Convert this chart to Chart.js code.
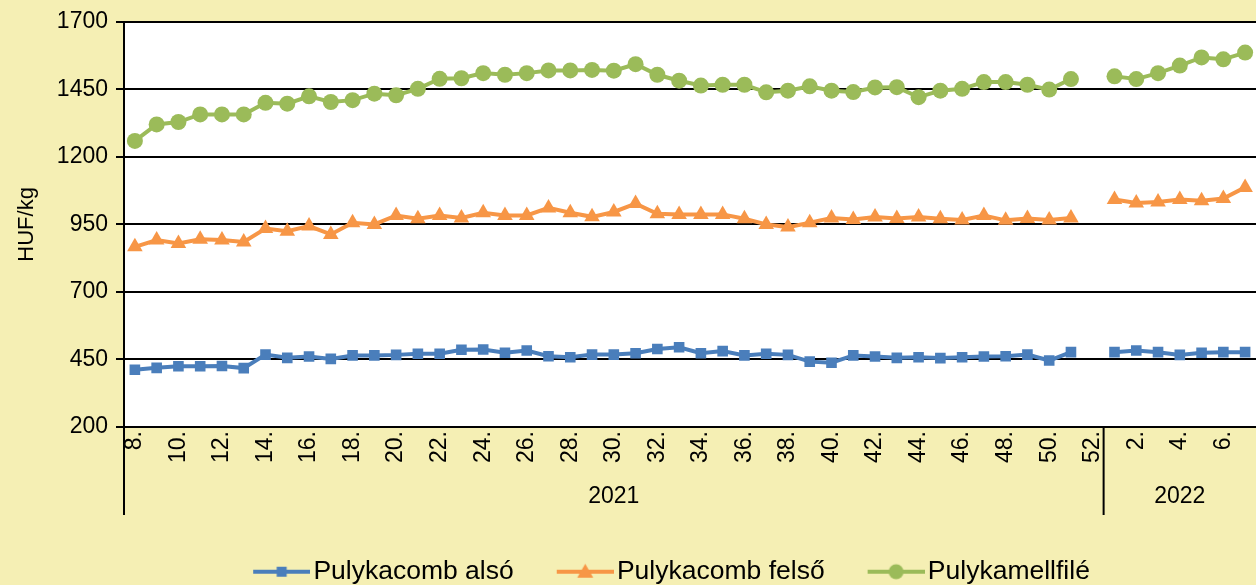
<!DOCTYPE html>
<html>
<head>
<meta charset="utf-8">
<script src="https://cdn.jsdelivr.net/npm/chart.js@4.4.1/dist/chart.umd.min.js"></script>
<style>
  html, body { margin: 0; padding: 0; background: #F5EFB4; }
  #wrap { width: 1256px; height: 585px; }
</style>
</head>
<body>
<div id="wrap"><canvas id="chart" width="1256" height="585"></canvas></div>
<script>
/* week labels: 2021 weeks 8-52, then 2022 weeks 1-7 */
const WEEKS = [
  '8.', '9.', '10.', '11.', '12.', '13.', '14.', '15.', '16.', '17.', '18.', '19.',
  '20.', '21.', '22.', '23.', '24.', '25.', '26.', '27.', '28.', '29.', '30.', '31.',
  '32.', '33.', '34.', '35.', '36.', '37.', '38.', '39.', '40.', '41.', '42.', '43.',
  '44.', '45.', '46.', '47.', '48.', '49.', '50.', '51.', '52.',
  '1.', '2.', '3.', '4.', '5.', '6.', '7.'
];
const YEARS       = ['2021', '2022'];
const YEAR_STARTS = [0, 45];   /* first week index of each year */

const Y_TICKS = [200, 450, 700, 950, 1200, 1450, 1700];

const ALSO = [
  412, 419, 425, 425, 426, 418, 468, 456, 461, 452, 465, 465,
  467, 471, 471, 486, 487, 475, 483, 462, 458, 468, 468, 473,
  489, 495, 473, 481, 465, 471, 467, 442, 438, 465, 461, 456,
  458, 455, 458, 461, 462, 468, 446, 477, null,
  477, 483, 477, 467, 475, 477, 477
];
const FELSO = [
  867, 892, 879, 895, 892, 885, 935, 925, 944, 913, 956, 950,
  983, 971, 983, 974, 993, 983, 983, 1011, 993, 978, 996, 1027,
  989, 987, 987, 987, 971, 950, 940, 956, 974, 968, 977, 972,
  977, 971, 966, 983, 965, 972, 966, 974, null,
  1042, 1029, 1033, 1042, 1038, 1046, 1087
];
const MELLFILE = [
  1259, 1320, 1329, 1357, 1357, 1357, 1400, 1397, 1424, 1403, 1410, 1434,
  1428, 1452, 1489, 1491, 1510, 1504, 1510, 1520, 1520, 1522, 1519, 1543,
  1504, 1482, 1464, 1467, 1467, 1439, 1445, 1461, 1445, 1440, 1457, 1458,
  1421, 1445, 1452, 1477, 1477, 1467, 1449, 1488, null,
  1498, 1488, 1510, 1538, 1568, 1561, 1586
];

const BLUE   = '#4A7EBB';
const ORANGE = '#F79646';
const GREEN  = '#9BBB59';
const FONT   = "'Liberation Sans', Arial, sans-serif";
const PLOT_BOTTOM = 427;

/* Excel-like legend sample: a line with the marker in the middle */
function legendSample(color, shape) {
  const c = document.createElement('canvas');
  c.width = 70; c.height = 22;
  const g = c.getContext('2d');
  const cx = 41.5, cy = 11;
  g.strokeStyle = color; g.fillStyle = color; g.lineWidth = 4;
  g.beginPath(); g.moveTo(13, cy); g.lineTo(70, cy); g.stroke();
  g.beginPath();
  if (shape === 'rect') g.rect(cx - 5, cy - 5, 10, 10);
  else if (shape === 'triangle') { g.moveTo(cx, cy - 8); g.lineTo(cx + 8, cy + 6); g.lineTo(cx - 8, cy + 6); g.closePath(); }
  else g.arc(cx, cy, 7.5, 0, Math.PI * 2);
  g.fill();
  return c;
}
const SAMPLES = [legendSample(BLUE, 'rect'), legendSample(ORANGE, 'triangle'), legendSample(GREEN, 'circle')];

const plotBg = {
  id: 'plotBg',
  beforeDraw(chart) {
    const { ctx, chartArea: a } = chart;
    ctx.save();
    ctx.fillStyle = '#fff';
    ctx.fillRect(a.left, a.top, a.right - a.left, a.bottom - a.top);
    ctx.restore();
  },
  afterLayout(chart) {
    /* plot runs right up to the canvas edge, like the Excel original */
    const a = chart.chartArea, xs = chart.scales.x;
    a.right = chart.width;
    a.width = a.right - a.left;
    xs.right = a.right;
    xs.width = a.width;
    xs.configure();
    /* Excel puts the legend a bit right of centre and near the bottom edge */
    const lg = chart.legend;
    lg.left += 42; lg.right += 42;
    lg.top += 10; lg.bottom += 10;
  }
};

/* year row under the week labels, with separators between years */
const yearGroups = {
  id: 'yearGroups',
  afterDraw(chart) {
    const { ctx, chartArea: a } = chart;
    const x = chart.scales.x;
    const half = (x.getPixelForValue(1) - x.getPixelForValue(0)) / 2;
    ctx.save();
    ctx.strokeStyle = '#000';
    ctx.lineWidth = 2;
    ctx.fillStyle = '#000';
    ctx.font = '23px ' + FONT;
    ctx.textAlign = 'center';
    ctx.textBaseline = 'middle';
    YEARS.forEach((yr, i) => {
      const x0 = x.getPixelForValue(YEAR_STARTS[i]) - half;
      const x1 = i + 1 < YEARS.length ? x.getPixelForValue(YEAR_STARTS[i + 1]) - half : a.right;
      ctx.beginPath();
      ctx.moveTo(x0, a.bottom);
      ctx.lineTo(x0, 515);
      ctx.stroke();
      ctx.fillText(yr, (x0 + x1) / 2, 497);
    });
    ctx.restore();
  }
};

new Chart(document.getElementById('chart'), {
  type: 'line',
  data: {
    labels: WEEKS,
    datasets: [
      {
        label: 'Pulykacomb alsó',
        data: ALSO,
        borderColor: BLUE,
        backgroundColor: BLUE,
        borderWidth: 4,
        pointStyle: 'rect',
        pointRadius: 7.5,
        pointBorderWidth: 0,
      },
      {
        label: 'Pulykacomb felső',
        data: FELSO,
        borderColor: ORANGE,
        backgroundColor: ORANGE,
        borderWidth: 4,
        pointStyle: 'triangle',
        pointRadius: 9,
        pointBorderWidth: 0,
      },
      {
        label: 'Pulykamellfilé',
        data: MELLFILE,
        borderColor: GREEN,
        backgroundColor: GREEN,
        borderWidth: 4,
        pointStyle: 'circle',
        pointRadius: 8,
        pointBorderWidth: 0,
      },
    ],
  },
  options: {
    responsive: false,
    animation: false,
    devicePixelRatio: 1,
    spanGaps: false,
    layout: { padding: { top: 20, left: 0, right: 0, bottom: 0 } },
    scales: {
      x: {
        offset: true,
        afterFit(s) {
          s.height = s.chart.height - PLOT_BOTTOM - s.chart.legend.height;
          s.paddingLeft = 0; s.paddingRight = 0;
        },
        grid: { display: false, drawTicks: false },
        border: { display: true, color: '#000', width: 2 },
        ticks: {
          autoSkip: false,
          minRotation: 90,
          maxRotation: 90,
          padding: 4,
          color: '#000',
          font: { family: FONT, size: 23 },
          callback(v, i) { return i % 2 === 0 ? WEEKS[i] : ''; },
        },
      },
      y: {
        min: 200,
        max: 1700,
        afterFit(s) { s.width = 124; },
        afterBuildTicks(s) { s.ticks = Y_TICKS.map(v => ({ value: v })); },
        grid: { color: '#000', lineWidth: 2, tickLength: 8 },
        border: { display: true, color: '#000', width: 2 },
        ticks: {
          color: '#000',
          padding: 8,
          font: { family: FONT, size: 23 },
          callback(v) { return String(v); },
        },
        title: {
          display: true,
          text: 'HUF/kg',
          color: '#000',
          padding: { top: 14, bottom: 0 },
          font: { family: FONT, size: 22 },
        },
      },
    },
    plugins: {
      legend: {
        position: 'bottom',
        labels: {
          usePointStyle: true,
          pointStyleWidth: 50,
          padding: 40,
          color: '#000',
          font: { family: FONT, size: 26.5 },
          generateLabels(chart) {
            const items = Chart.defaults.plugins.legend.labels.generateLabels(chart);
            items.forEach((it, i) => { it.pointStyle = SAMPLES[i]; });
            return items;
          },
        },
      },
      tooltip: { enabled: false },
    },
  },
  plugins: [plotBg, yearGroups],
});
</script>
</body>
</html>
